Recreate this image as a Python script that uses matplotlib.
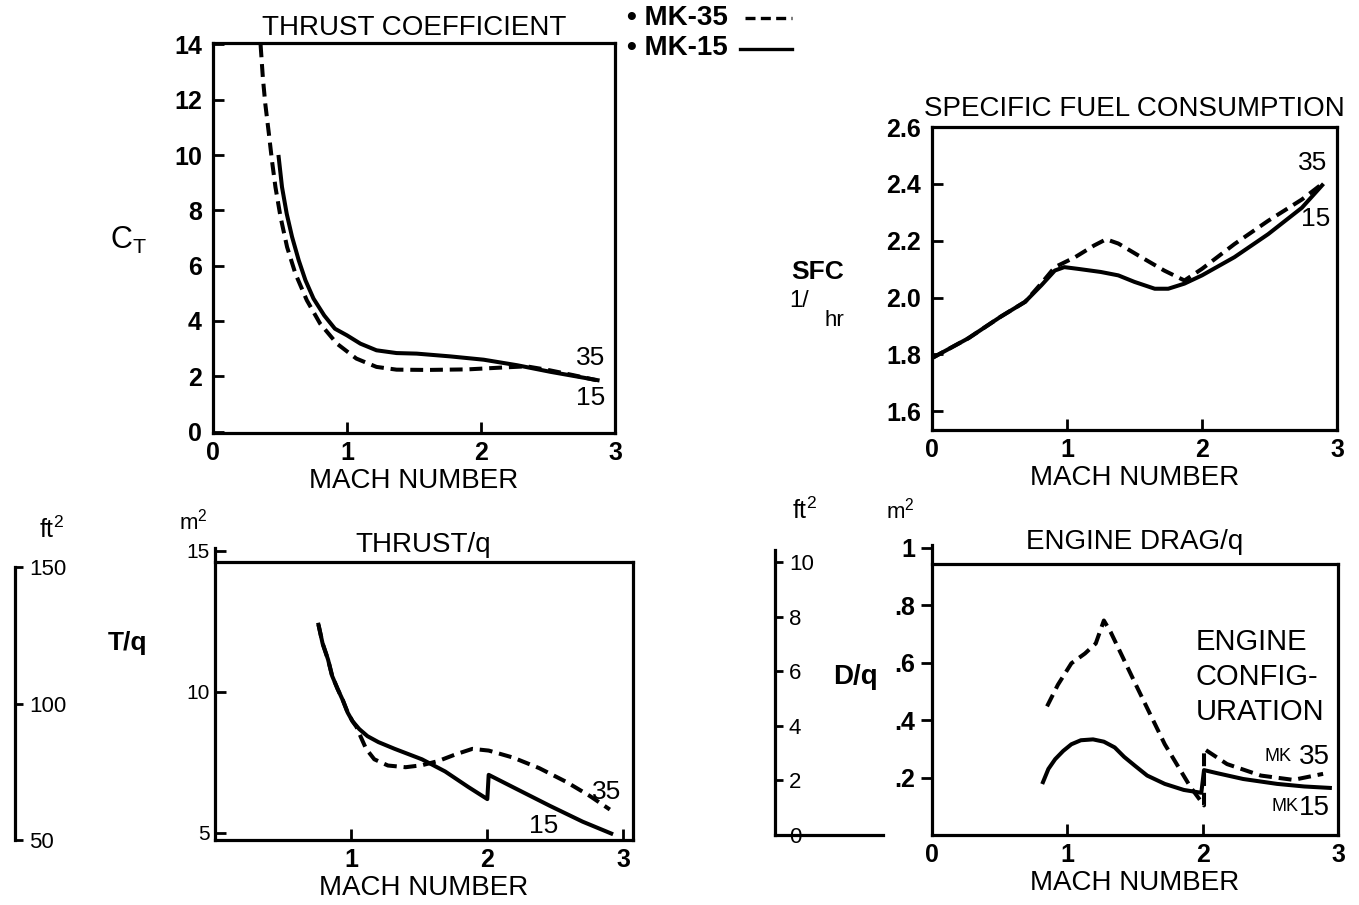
import matplotlib.pyplot as plt
from matplotlib.lines import Line2D

plt.rcParams['font.family'] = ['Liberation Sans', 'DejaVu Sans']
plt.rcParams['mathtext.default'] = 'regular'

W, H = 1359, 905

# thrust coefficient
ct_mach_35 = [0.355, 0.372, 0.39, 0.417, 0.44, 0.466, 0.504, 0.553, 0.615, 0.70, 0.80, 0.925,
              1.07, 1.22, 1.37, 1.6, 1.9, 2.17, 2.34, 2.51, 2.69, 2.86]
ct_35 = [14.0, 12.8, 11.86, 10.77, 9.8, 8.84, 7.76, 6.67, 5.71, 4.75, 3.9, 3.18,
         2.64, 2.34, 2.24, 2.23, 2.25, 2.32, 2.36, 2.22, 2.04, 1.86]
ct_mach_15 = [0.49, 0.515, 0.55, 0.59, 0.64, 0.69, 0.75, 0.83, 0.91, 1.0, 1.1, 1.22, 1.37,
              1.52, 1.77, 2.02, 2.27, 2.52, 2.87]
ct_15 = [9.93, 8.84, 7.88, 7.04, 6.19, 5.47, 4.81, 4.2, 3.72, 3.48, 3.18, 2.94, 2.84,
         2.82, 2.72, 2.6, 2.4, 2.16, 1.86]

# specific fuel consumption, 1/hr
sfc_mach_35 = [0, 0.27, 0.51, 0.69, 0.81, 0.91, 1.06, 1.2, 1.29, 1.38, 1.55, 1.72, 1.87, 2.0, 2.24, 2.49, 2.74, 2.89]
sfc_35 = [1.787, 1.857, 1.933, 1.985, 2.05, 2.107, 2.142, 2.183, 2.205, 2.19, 2.142, 2.095, 2.06, 2.101, 2.188, 2.27, 2.345, 2.4]
sfc_mach_15 = [0, 0.27, 0.51, 0.69, 0.81, 0.91, 0.98, 1.08, 1.25, 1.38, 1.5, 1.65, 1.75, 1.87, 2.0, 2.24, 2.49, 2.74, 2.89]
sfc_15 = [1.787, 1.857, 1.933, 1.985, 2.043, 2.095, 2.107, 2.101, 2.09, 2.078, 2.055, 2.031, 2.031, 2.049, 2.078, 2.142, 2.223, 2.316, 2.395]

# thrust/q, m^2
tq_mach_35 = [0.76, 0.79, 0.83, 0.86, 0.90, 0.94, 0.975, 1.01, 1.04, 1.07, 1.11, 1.17, 1.27,
              1.40, 1.52, 1.64, 1.77, 1.89, 2.01, 2.19, 2.38, 2.58, 2.75, 2.9]
tq_35 = [12.38, 11.72, 11.15, 10.57, 10.11, 9.69, 9.26, 8.96, 8.75, 8.41, 7.98, 7.61, 7.39,
         7.33, 7.4, 7.55, 7.79, 7.98, 7.92, 7.67, 7.3, 6.81, 6.32, 5.83]
tq_mach_15 = [0.76, 0.79, 0.83, 0.86, 0.90, 0.94, 0.975, 1.01, 1.06, 1.12, 1.2, 1.32, 1.52,
              1.69, 1.86, 2.0, 2.01, 2.21, 2.46, 2.70, 2.91]
tq_15 = [12.38, 11.72, 11.15, 10.57, 10.11, 9.69, 9.26, 8.96, 8.68, 8.43, 8.22, 7.98, 7.61,
         7.18, 6.63, 6.2, 7.06, 6.57, 5.96, 5.4, 4.98]

# engine drag/q, m^2
dq_mach_35 = [0.85, 0.93, 1.03, 1.13, 1.21, 1.27, 1.32, 1.52, 1.72, 1.91, 2.01, 2.01, 2.18, 2.43, 2.67, 2.89]
dq_35 = [0.448, 0.523, 0.598, 0.632, 0.667, 0.747, 0.707, 0.51, 0.316, 0.167, 0.103, 0.30, 0.247, 0.207, 0.192, 0.213]
dq_mach_15 = [0.82, 0.86, 0.91, 0.97, 1.03, 1.10, 1.19, 1.27, 1.35, 1.42, 1.5, 1.59, 1.72, 1.86,
              1.99, 2.01, 2.11, 2.3, 2.55, 2.75, 2.94]
dq_15 = [0.184, 0.23, 0.264, 0.293, 0.316, 0.33, 0.333, 0.325, 0.305, 0.272, 0.241, 0.207, 0.178,
         0.157, 0.147, 0.226, 0.215, 0.195, 0.178, 0.169, 0.164]

DASH = (0, (3.2, 1.7))
LW = 2.9
SPW = 2.3


def rect(l, t, r, b):
    return [l / W, 1 - b / H, (r - l) / W, (b - t) / H]


def ftext(x, y, s, **kw):
    kw.setdefault('ha', 'center')
    kw.setdefault('va', 'center')
    fig.text(x / W, 1 - y / H, s, **kw)


def style(ax, ydir='in'):
    for sp in ax.spines.values():
        sp.set_linewidth(SPW)
    ax.tick_params(axis='x', direction='in', length=8, width=2, labelsize=18, pad=6)
    ax.tick_params(axis='y', direction=ydir, length=8, width=2, labelsize=18, pad=8)
    for t in ax.get_xticklabels() + ax.get_yticklabels():
        t.set_fontweight('bold')


fig = plt.figure(figsize=(W / 100, H / 100), dpi=100)

# ---- thrust coefficient
ax1 = fig.add_axes(rect(213, 43, 615, 433))
ax1.plot(ct_mach_35, ct_35, color='black', lw=LW, ls=DASH)
ax1.plot(ct_mach_15, ct_15, color='black', lw=LW)
ax1.set_xlim(0, 3)
ax1.set_ylim(-0.05, 14.05)
ax1.set_xticks([0, 1, 2, 3])
ax1.set_yticks(range(0, 15, 2))
style(ax1)
ax1.set_title('THRUST COEFFICIENT', fontsize=20, pad=6)
ax1.set_xlabel('MACH NUMBER', fontsize=20, labelpad=2)
ax1.text(2.93, 2.65, '35', fontsize=19, ha='right', va='center')
ax1.text(2.93, 1.2, '15', fontsize=19, ha='right', va='center')
ftext(128, 240, 'C$_T$', fontsize=22)

# ---- specific fuel consumption
ax2 = fig.add_axes(rect(932, 127, 1337, 430))
ax2.plot(sfc_mach_35, sfc_35, color='black', lw=LW, ls=DASH)
ax2.plot(sfc_mach_15, sfc_15, color='black', lw=LW)
ax2.set_xlim(0, 3)
ax2.set_ylim(1.534, 2.584)
ax2.set_xticks([0, 1, 2, 3])
ax2.set_yticks([1.6, 1.8, 2.0, 2.2, 2.4, 2.6])
ax2.set_yticklabels(['1.6', '1.8', '2.0', '2.2', '2.4', '2.6'])
style(ax2)
ax2.set_title('SPECIFIC FUEL CONSUMPTION', fontsize=20, pad=8)
ax2.set_xlabel('MACH NUMBER', fontsize=20, labelpad=2)
ax2.text(2.93, 2.45, '35', fontsize=19, ha='right')
ax2.text(2.95, 2.25, '15', fontsize=19, ha='right')
ftext(818, 272, 'SFC', fontsize=19, fontweight='bold')
ftext(799, 301, '1/', fontsize=17)
ftext(834, 320, 'hr', fontsize=16)

# ---- thrust/q
ax3 = fig.add_axes(rect(215, 548, 633, 840))
ax3.plot(tq_mach_35, tq_35, color='black', lw=LW, ls=DASH)
ax3.plot(tq_mach_15, tq_15, color='black', lw=LW)
ax3.set_xlim(0, 3.07)
ax3.set_ylim(4.75, 15.1)
ax3.spines['top'].set_position(('data', 14.6))
ax3.spines['right'].set_bounds(4.75, 14.6)
ax3.set_xticks([1, 2, 3])
ax3.set_yticks([5, 10, 15])
style(ax3)
ax3.tick_params(axis='y', labelsize=15, pad=4)
for t in ax3.get_yticklabels():
    t.set_fontweight('normal')
ax3.text(1.53, 15.2, 'THRUST/q', fontsize=20, ha='center', va='center')
ax3.set_xlabel('MACH NUMBER', fontsize=20, labelpad=2)
ax3.text(2.98, 6.45, '35', fontsize=19, ha='right', va='center')
ax3.text(2.52, 5.25, '15', fontsize=19, ha='right', va='center')
ftext(128, 643, 'T/q', fontsize=19, fontweight='bold')
ftext(193, 522, 'm$^2$', fontsize=16)
ftext(52, 530, 'ft$^2$', fontsize=18)

# ft^2 scale for thrust/q
ax3f = fig.add_axes(rect(15, 567, 40, 840))
ax3f.set_ylim(50, 150)
ax3f.set_xticks([])
ax3f.set_yticks([50, 100, 150])
for k in ['top', 'right', 'bottom']:
    ax3f.spines[k].set_visible(False)
ax3f.spines['left'].set_linewidth(SPW)
ax3f.tick_params(axis='y', direction='in', length=6, width=2, labelsize=16, pad=-10)
for t in ax3f.get_yticklabels():
    t.set_horizontalalignment('left')
ax3f.patch.set_visible(False)

# ---- engine drag/q
ax4 = fig.add_axes(rect(932, 545, 1338, 835))
ax4.plot(dq_mach_35, dq_35, color='black', lw=LW, ls=DASH)
ax4.plot(dq_mach_15, dq_15, color='black', lw=LW)
ax4.set_xlim(0, 3)
ax4.set_ylim(0, 1.01)
ax4.spines['top'].set_position(('data', 0.943))
ax4.spines['right'].set_bounds(0, 0.943)
ax4.set_xticks([0, 1, 2, 3])
ax4.set_yticks([0.2, 0.4, 0.6, 0.8, 1.0])
ax4.set_yticklabels(['.2', '.4', '.6', '.8', '1'])
style(ax4, ydir='out')
ax4.tick_params(axis='y', pad=4)
ax4.text(1.5, 1.02, 'ENGINE DRAG/q', fontsize=20, ha='center', va='center')
ax4.set_xlabel('MACH NUMBER', fontsize=20, labelpad=2)
ax4.text(1.95, 0.55, 'ENGINE\nCONFIG-\nURATION', fontsize=21, ha='left', va='center',
         linespacing=1.3)
ax4.text(2.94, 0.27, '35', fontsize=20, ha='right', va='center')
ax4.text(2.66, 0.275, 'MK', fontsize=13, ha='right', va='center')
ax4.text(2.94, 0.094, '15', fontsize=20, ha='right', va='center')
ax4.text(2.71, 0.1, 'MK', fontsize=13, ha='right', va='center')
ftext(855, 677, 'D/q', fontsize=20, fontweight='bold')
ftext(900, 511, 'm$^2$', fontsize=16)
ftext(805, 511, 'ft$^2$', fontsize=18)

# ft^2 scale for drag/q
ax4f = fig.add_axes(rect(775, 550, 883, 835))
ax4f.set_ylim(0, 10.45)
ax4f.set_xticks([])
ax4f.set_yticks([0, 2, 4, 6, 8, 10])
for k in ['top', 'right']:
    ax4f.spines[k].set_visible(False)
ax4f.spines['left'].set_linewidth(SPW)
ax4f.spines['bottom'].set_linewidth(SPW)
ax4f.tick_params(axis='y', direction='in', length=6, width=2, labelsize=16, pad=-10)
for t in ax4f.get_yticklabels():
    t.set_horizontalalignment('left')
ax4f.patch.set_visible(False)

# ---- legend
ftext(627, 18, '\u2022 MK-35', fontsize=20, fontweight='bold', ha='left')
ftext(627, 48, '\u2022 MK-15', fontsize=20, fontweight='bold', ha='left')
fig.add_artist(Line2D([745 / W, 792 / W], [1 - 18 / H, 1 - 18 / H], color='black', lw=2.4,
                      ls=(0, (3, 1.6))))
fig.add_artist(Line2D([740 / W, 792 / W], [1 - 49 / H, 1 - 49 / H], color='black', lw=2.4))

fig.savefig('out.png', dpi=100)
